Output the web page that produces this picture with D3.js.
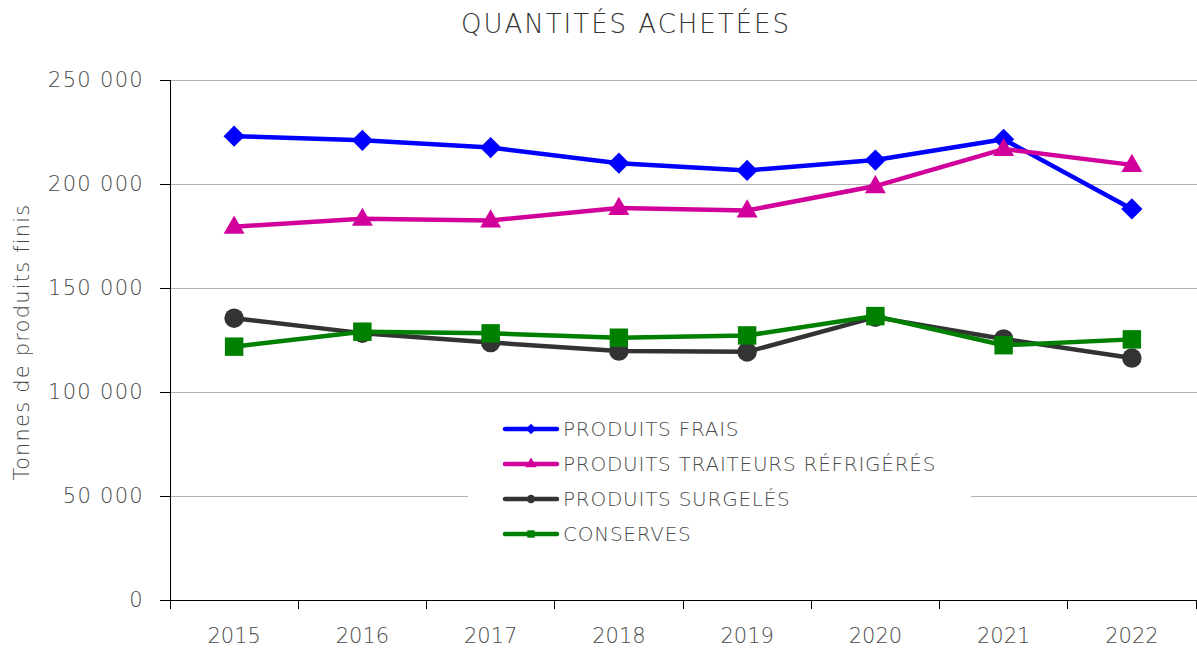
<!DOCTYPE html>
<html><head><meta charset="utf-8">
<script src="https://cdn.jsdelivr.net/npm/d3@7"></script>
<style>
html,body{margin:0;padding:0;background:#fff;}
svg{display:block;}
svg text{font-family:"DejaVu Sans", sans-serif;font-weight:200;}
</style></head>
<body>
<svg id="chart" width="1197" height="653"></svg>
<script>
const years = ["2015","2016","2017","2018","2019","2020","2021","2022"];
const produitsFrais = [223000, 221000, 217500, 210000, 206500, 211500, 221500, 188000];
const traiteursRefrigeres = [179500, 183300, 182500, 188500, 187300, 199000, 216800, 209200];
const surgeles = [135500, 128300, 123800, 119700, 119300, 136000, 125500, 116300];
const conserves = [121800, 129000, 128200, 126100, 127200, 136500, 122500, 125300];
const yTicks = [0, 50000, 100000, 150000, 200000, 250000];
const seriesNames = ["PRODUITS FRAIS", "PRODUITS TRAITEURS RÉFRIGÉRÉS", "PRODUITS SURGELÉS", "CONSERVES"];
const seriesColors = ["#0000ff", "#d1009a", "#333333", "#008000"];
const seriesSymbols = ["diamond", "triangle", "circle", "square"];

(function () {
const series = [produitsFrais, traiteursRefrigeres, surgeles, conserves].map((v, i) => ({
  name: seriesNames[i], values: v, color: seriesColors[i], symbol: seriesSymbols[i]
}));

const svg = d3.select("#chart");
const mLeft = 170, mRight = 1196, mTop = 80, mBottom = 600;
const textColor = "#4a4a4a";

const x = d3.scaleBand().domain(years).range([mLeft, mRight]).padding(0);
const y = d3.scaleLinear().domain([0, 250000]).range([mBottom, mTop]);
const loc = d3.formatLocale({decimal: ",", thousands: " ", grouping: [3], currency: ["", " €"]});
const fmt = loc.format(",");

// title
svg.append("text").attr("x", 626).attr("y", 33).attr("text-anchor", "middle")
  .attr("font-size", 26).attr("fill", "#333").attr("letter-spacing", 2)
  .text("QUANTITÉS ACHETÉES");

// gridlines
svg.append("g").selectAll("line").data(yTicks.filter(d => d > 0)).join("line")
  .attr("x1", mLeft).attr("x2", mRight + 1).attr("y1", d => y(d)).attr("y2", d => y(d))
  .attr("stroke", "#b3b3b3").attr("stroke-width", 1).attr("shape-rendering", "crispEdges");

// y axis
const yAxis = svg.append("g").attr("transform", `translate(${mLeft},0)`)
  .call(d3.axisLeft(y).tickValues(yTicks).tickFormat(fmt).tickSize(10).tickPadding(16));
yAxis.attr("font-family", null);
yAxis.select(".domain").attr("stroke", "#000").attr("shape-rendering", "crispEdges");
yAxis.selectAll(".tick line").attr("stroke", "#000").attr("shape-rendering", "crispEdges");
yAxis.selectAll("text").attr("font-size", 21).attr("fill", textColor).attr("letter-spacing", 1.3);

// y label
svg.append("text").attr("transform", `translate(29,${342}) rotate(-90)`).attr("text-anchor", "middle")
  .attr("font-size", 21).attr("fill", textColor).attr("letter-spacing", 1.2).text("Tonnes de produits finis");

// x axis
const xAxis = svg.append("g").attr("transform", `translate(0,${mBottom})`)
  .call(d3.axisBottom(x).tickSize(0).tickPadding(28));
xAxis.attr("font-family", null);
xAxis.select(".domain").remove();
xAxis.selectAll("text").attr("font-size", 21).attr("fill", textColor);
svg.append("line").attr("x1", mLeft - 10).attr("x2", mRight + 1).attr("y1", mBottom).attr("y2", mBottom)
  .attr("stroke", "#000").attr("shape-rendering", "crispEdges");
const bounds = years.map(d => x(d)).concat([x(years[years.length - 1]) + x.bandwidth()]);
svg.append("g").selectAll("line").data(bounds).join("line")
  .attr("x1", d => Math.min(d, mRight)).attr("x2", d => Math.min(d, mRight))
  .attr("y1", mBottom).attr("y2", mBottom + 9)
  .attr("stroke", "#000").attr("shape-rendering", "crispEdges");

// legend background
svg.append("rect").attr("x", 468).attr("y", 408).attr("width", 503).attr("height", 146).attr("fill", "#fff");

const symMap = {diamond: d3.symbolSquare, triangle: d3.symbolTriangle, circle: d3.symbolCircle, square: d3.symbolSquare};
const symSize = {diamond: 225, triangle: 190, circle: 300, square: 340};
const symRot = {diamond: 45, triangle: 0, circle: 0, square: 0};
const cx = d => x(d) + x.bandwidth() / 2;

// lines
series.forEach(s => {
  const line = d3.line().x((d, i) => cx(years[i])).y(d => y(d));
  svg.append("path").datum(s.values).attr("d", line).attr("fill", "none")
    .attr("stroke", s.color).attr("stroke-width", 4.5).attr("stroke-linejoin", "round");
  svg.append("g").selectAll("path").data(s.values).join("path")
    .attr("transform", (d, i) => `translate(${cx(years[i])},${y(d) + (s.symbol === "triangle" ? 1 : 0)}) rotate(${symRot[s.symbol]})`)
    .attr("d", d3.symbol().type(symMap[s.symbol]).size(symSize[s.symbol]))
    .attr("fill", s.color);
});

// legend
const lg = svg.append("g");
series.forEach((s, i) => {
  const yy = 429 + i * 35;
  lg.append("line").attr("x1", 505).attr("x2", 557).attr("y1", yy).attr("y2", yy)
    .attr("stroke", s.color).attr("stroke-width", 4.5).attr("stroke-linecap", "round");
  lg.append("path").attr("transform", `translate(531,${yy}) rotate(${symRot[s.symbol]})`)
    .attr("d", d3.symbol().type(symMap[s.symbol]).size(55)).attr("fill", s.color);
  lg.append("text").attr("x", 563).attr("y", yy).attr("dy", "0.36em")
    .attr("font-size", 20).attr("fill", textColor).attr("letter-spacing", 0.75).text(s.name);
});
})();
</script>
</body></html>
